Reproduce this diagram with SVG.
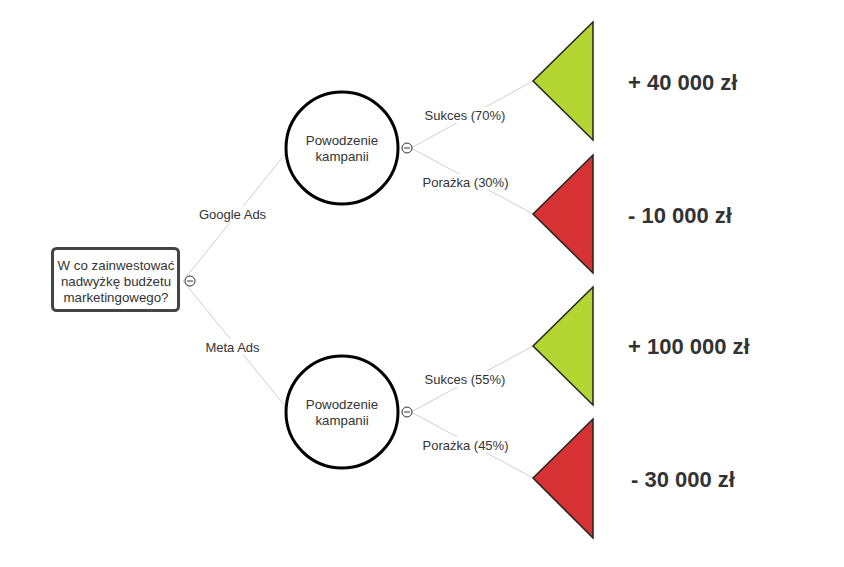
<svg xmlns="http://www.w3.org/2000/svg" width="844" height="567" viewBox="0 0 844 567">
<style>
.edge{stroke:#cfcfcf;stroke-width:1;fill:none}
.lbl{font-family:"Liberation Sans",Arial,sans-serif;font-size:13px;fill:#333;text-anchor:middle;dominant-baseline:central}
.ntxt{font-family:"Liberation Sans",Arial,sans-serif;font-size:13.3px;fill:#333;text-anchor:middle;dominant-baseline:central}
.val{font-family:"Liberation Sans",Arial,sans-serif;font-size:22px;font-weight:bold;fill:#333;dominant-baseline:central}
.chance{fill:#fff;stroke:#000;stroke-width:3}
.good{fill:#b3d633;stroke:#222;stroke-width:1.5;stroke-linejoin:miter}
.bad{fill:#d63133;stroke:#222;stroke-width:1.5;stroke-linejoin:miter}
.tog{fill:#fff;stroke:#333;stroke-width:1}
</style>
<defs>
<g id="toggle"><circle class="tog" cx="0" cy="0" r="5"/><line x1="-3" y1="0" x2="3" y2="0" stroke="#333" stroke-width="1"/></g>
</defs>
<rect width="844" height="567" fill="#fff"/>
<g id="connectors">
<line class="edge" x1="183" y1="281" x2="290" y2="148"/>
<line class="edge" x1="183" y1="281" x2="290" y2="412"/>
<line class="edge" x1="411" y1="148" x2="533" y2="81"/>
<line class="edge" x1="411" y1="148" x2="533" y2="214"/>
<line class="edge" x1="411" y1="412" x2="533" y2="346"/>
<line class="edge" x1="411" y1="412" x2="533" y2="478"/>
<rect x="195" y="206" width="75" height="16" fill="#fff"/>
<text class="lbl" x="232.5" y="214">Google Ads</text>
<rect x="201" y="339" width="63" height="16" fill="#fff"/>
<text class="lbl" x="232.5" y="347">Meta Ads</text>
<rect x="420" y="107" width="90" height="16" fill="#fff"/>
<text class="lbl" x="465" y="115">Sukces (70%)</text>
<rect x="418" y="174" width="95" height="16" fill="#fff"/>
<text class="lbl" x="465.5" y="182">Porażka (30%)</text>
<rect x="420" y="371" width="90" height="16" fill="#fff"/>
<text class="lbl" x="465" y="379">Sukces (55%)</text>
<rect x="418" y="437" width="95" height="16" fill="#fff"/>
<text class="lbl" x="465.5" y="445">Porażka (45%)</text>
</g>
<g id="root">
<rect x="52.5" y="248.5" width="126" height="62" rx="4" ry="4" fill="#fff" stroke="#444" stroke-width="3"/>
<text class="ntxt" x="116" y="265">W co zainwestować</text>
<text class="ntxt" x="116" y="281">nadwyżkę budżetu</text>
<text class="ntxt" x="116" y="297">marketingowego?</text>
<use href="#toggle" x="190" y="281"/>
</g>
<g id="chance1">
<circle class="chance" cx="342" cy="148" r="56"/>
<text class="ntxt" x="342" y="140">Powodzenie</text>
<text class="ntxt" x="342" y="156">kampanii</text>
<use href="#toggle" x="407" y="148"/>
</g>
<g id="chance2">
<circle class="chance" cx="342" cy="412" r="56"/>
<text class="ntxt" x="342" y="404">Powodzenie</text>
<text class="ntxt" x="342" y="420">kampanii</text>
<use href="#toggle" x="407" y="412"/>
</g>
<g id="end1">
<polygon class="good" points="533,81 593,22 593,140"/>
<text class="val" x="628" y="82">+ 40 000 zł</text>
</g>
<g id="end2">
<polygon class="bad" points="533,214 593,155 593,273"/>
<text class="val" x="628" y="215">- 10 000 zł</text>
</g>
<g id="end3">
<polygon class="good" points="533,346 593,287 593,405"/>
<text class="val" x="628" y="346">+ 100 000 zł</text>
</g>
<g id="end4">
<polygon class="bad" points="533,478 593,419 593,538"/>
<text class="val" x="631" y="479">- 30 000 zł</text>
</g>
</svg>
